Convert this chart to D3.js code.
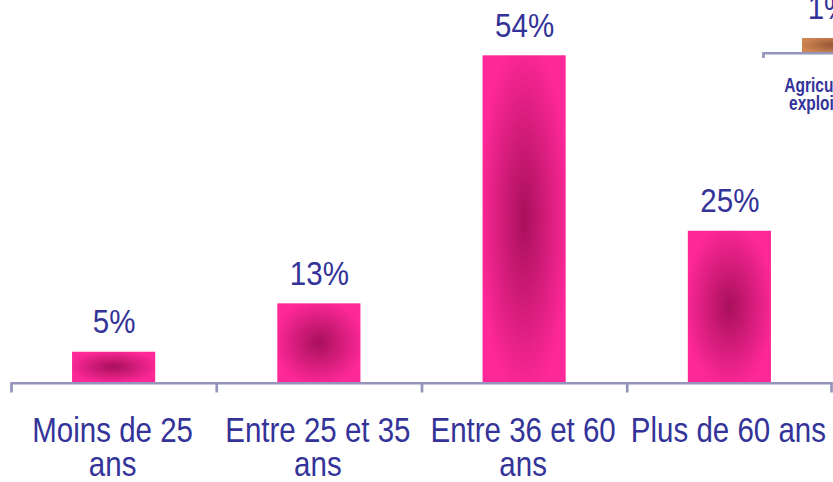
<!DOCTYPE html>
<html>
<head>
<meta charset="utf-8">
<script src="https://cdn.jsdelivr.net/npm/d3@7/dist/d3.min.js"></script>
<style>
  html, body { margin: 0; padding: 0; background: #ffffff; }
  svg { display: block; }
  text { font-family: "Liberation Sans", Arial, sans-serif; }
</style>
</head>
<body>
<svg id="chart" width="833" height="482"></svg>
<script>
// Main chart data
const categories = [["Moins de 25", "ans"], ["Entre 25 et 35", "ans"], ["Entre 36 et 60", "ans"], ["Plus de 60 ans"]];
const values = [5, 13, 54, 25];
// Partially visible neighbouring chart (clipped at right edge)
const sideCategories = [["Agriculteurs", "exploitants"]];
const sideValues = [1];

const svg = d3.select("#chart");
const defs = svg.append("defs");

const pink = defs.append("radialGradient").attr("id", "gPink")
  .attr("cx", "50%").attr("cy", "50%").attr("r", "55%");
pink.append("stop").attr("offset", "0%").attr("stop-color", "#a8105c");
pink.append("stop").attr("offset", "100%").attr("stop-color", "#ff2898");

const brown = defs.append("radialGradient").attr("id", "gBrown")
  .attr("cx", "60%").attr("cy", "50%").attr("r", "60%");
brown.append("stop").attr("offset", "0%").attr("stop-color", "#925434");
brown.append("stop").attr("offset", "100%").attr("stop-color", "#cc8450");

const textColor = "#333399";
const axisColor = "#9494bc";

// ---- main chart ----
const baseY = 382;
const x = d3.scaleBand().domain(d3.range(values.length)).range([11, 832]).padding(0);
const y = d3.scaleLinear().domain([0, 60]).range([baseY, baseY - 363]);
const barW = x.bandwidth() * 0.405;

const g = svg.append("g");

g.selectAll("rect.bar").data(values).join("rect")
  .attr("class", "bar")
  .attr("x", (d, i) => x(i) + x.bandwidth() / 2 - barW / 2)
  .attr("y", d => y(d))
  .attr("width", barW)
  .attr("height", d => baseY - y(d))
  .attr("fill", "url(#gPink)");

// axis line + boundary ticks
const bounds = d3.range(values.length + 1).map(i => i < values.length ? x(i) : x(values.length - 1) + x.bandwidth());
g.append("line").attr("x1", x.range()[0]).attr("x2", x.range()[1])
  .attr("y1", baseY + 1.2).attr("y2", baseY + 1.2)
  .attr("stroke", axisColor).attr("stroke-width", 2.6);
g.selectAll("line.tick").data(bounds).join("line")
  .attr("class", "tick")
  .attr("x1", d => Math.min(d + 0.5, 831.5)).attr("x2", d => Math.min(d + 0.5, 831.5))
  .attr("y1", baseY).attr("y2", baseY + 10.5)
  .attr("stroke", axisColor).attr("stroke-width", 2.7);

// value labels
g.selectAll("text.val").data(values).join("text")
  .attr("class", "val")
  .attr("transform", (d, i) => `translate(${x(i) + x.bandwidth() / 2 + 0.5},${y(d) - 18.5}) scale(1,1.14)`)
  .attr("text-anchor", "middle")
  .attr("font-size", 29.5)
  .attr("fill", textColor)
  .text(d => d + "%");

// category labels
categories.forEach((lines, i) => {
  lines.forEach((ln, j) => {
    g.append("text")
      .attr("transform", `translate(${x(i) + x.bandwidth() / 2 - 1},${442 + j * 34}) scale(1,1.17)`)
      .attr("text-anchor", "middle")
      .attr("font-size", 29.5)
      .attr("fill", textColor)
      .text(ln);
  });
});

// ---- side chart (partially visible) ----
const sBase = 52;
const sx = d3.scaleBand().domain(d3.range(sideValues.length)).range([763, 895]).padding(0);
const sy = d3.scaleLinear().domain([0, 1]).range([sBase, sBase - 14]);
const sBarW = 54;
const sg = svg.append("g");
sg.selectAll("rect").data(sideValues).join("rect")
  .attr("x", (d, i) => sx(i) + sx.bandwidth() / 2 - sBarW / 2)
  .attr("y", d => sy(d))
  .attr("width", sBarW)
  .attr("height", d => sBase - sy(d))
  .attr("fill", "url(#gBrown)");
sg.append("line").attr("x1", 763).attr("x2", 900)
  .attr("y1", sBase + 1.2).attr("y2", sBase + 1.2)
  .attr("stroke", axisColor).attr("stroke-width", 2.6);
sg.append("line").attr("x1", 763.5).attr("x2", 763.5)
  .attr("y1", sBase).attr("y2", sBase + 6)
  .attr("stroke", axisColor).attr("stroke-width", 2.7);
sg.selectAll("text.val").data(sideValues).join("text")
  .attr("class", "val")
  .attr("transform", (d, i) => `translate(${sx(i) + sx.bandwidth() / 2},${sy(d) - 19.5}) scale(1,1.14)`)
  .attr("text-anchor", "middle")
  .attr("font-size", 29.5)
  .attr("fill", textColor)
  .text(d => d + "%");
sideCategories.forEach((lines, i) => {
  lines.forEach((ln, j) => {
    sg.append("text")
      .attr("transform", `translate(${sx(i) + sx.bandwidth() / 2 + 1},${92 + j * 18}) scale(1,1.3)`)
      .attr("text-anchor", "middle")
      .attr("font-size", 15.5)
      .attr("font-weight", "bold")
      .attr("fill", textColor)
      .text(ln);
  });
});
</script>
</body>
</html>
